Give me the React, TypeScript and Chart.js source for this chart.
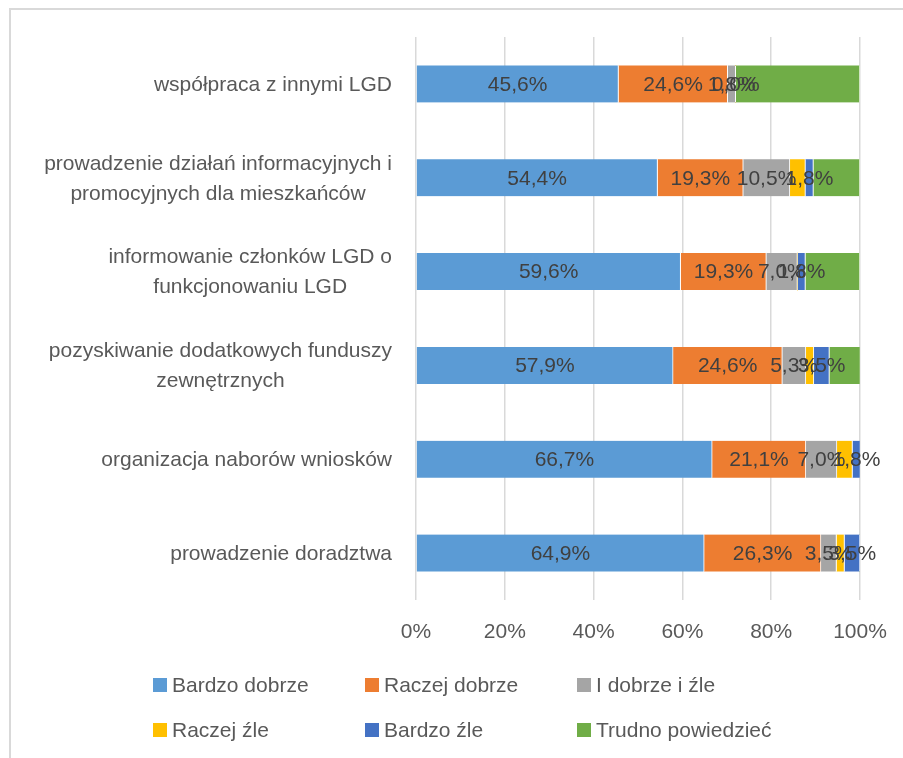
import React, { useEffect, useRef } from "react";
import { Chart, registerables } from "chart.js";

Chart.register(...registerables);

const categories: string[][] = [
  ["współpraca z innymi LGD"],
  ["prowadzenie działań informacyjnych i", "promocyjnych dla mieszkańców"],
  ["informowanie członków LGD o", "funkcjonowaniu LGD"],
  ["pozyskiwanie dodatkowych funduszy", "zewnętrznych"],
  ["organizacja naborów wniosków"],
  ["prowadzenie doradztwa"],
];

const seriesNames = [
  "Bardzo dobrze",
  "Raczej dobrze",
  "I dobrze i źle",
  "Raczej źle",
  "Bardzo źle",
  "Trudno powiedzieć",
];

const bardzoDobrze = [45.6, 54.4, 59.6, 57.9, 66.7, 64.9];
const raczejDobrze = [24.6, 19.3, 19.3, 24.6, 21.1, 26.3];
const iDobrzeIZle = [1.8, 10.5, 7.0, 5.3, 7.0, 3.5];
const raczejZle = [0, 3.5, 0, 1.8, 3.5, 1.8];
const bardzoZle = [0, 1.8, 1.8, 3.5, 1.8, 3.5];
const trudnoPowiedziec = [28.0, 10.5, 12.3, 7.0, 0, 0];

const xTicks = [0, 20, 40, 60, 80, 100];

const colors = ["#5B9BD5", "#ED7D31", "#A5A5A5", "#FFC000", "#4472C4", "#70AD47"];
const labelledSeries = [true, true, true, false, true, false];

const FONT = "'Liberation Sans', Arial, sans-serif";
const FS = 21;

export default function App() {
  const ref = useRef<HTMLCanvasElement | null>(null);

  useEffect(() => {
    if (!ref.current) return;
    const values = [bardzoDobrze, raczejDobrze, iDobrzeIZle, raczejZle, bardzoZle, trudnoPowiedziec];

    const customPlugin = {
      id: "custom",
      afterDatasetsDraw(chart: any) {
        const ctx = chart.ctx;
        ctx.save();
        ctx.font = `${FS}px ${FONT}`;
        ctx.textAlign = "center";
        ctx.textBaseline = "middle";
        ctx.fillStyle = "#404040";
        chart.data.datasets.forEach((ds: any, di: number) => {
          if (!labelledSeries[di]) return;
          const meta = chart.getDatasetMeta(di);
          meta.data.forEach((el: any, i: number) => {
            const v = ds.data[i];
            const cx = (el.x + el.base) / 2;
            const txt = v.toFixed(1).replace(".", ",") + "%";
            ctx.fillText(txt, cx, el.y + 1);
          });
        });
        ctx.restore();
      },
      afterDraw(chart: any) {
        const ctx = chart.ctx;
        const yScale = chart.scales.y;
        ctx.save();
        ctx.font = `${FS}px ${FONT}`;
        ctx.fillStyle = "#595959";
        ctx.textBaseline = "middle";
        ctx.textAlign = "center";
        const right = 392;
        const lh = 30;
        categories.forEach((lines, i) => {
          const y = yScale.getPixelForValue(i);
          const w = Math.max(...lines.map((l) => ctx.measureText(l).width));
          const cx = right - w / 2;
          lines.forEach((l, li) => {
            ctx.fillText(l, cx, y - ((lines.length - 1) * lh) / 2 + li * lh + 1);
          });
        });
        // legend
        ctx.textAlign = "left";
        const colX = [153, 365, 577];
        const rowY = [685, 730];
        seriesNames.forEach((name, i) => {
          const c = i % 3;
          const r = Math.floor(i / 3);
          ctx.fillStyle = colors[i];
          ctx.fillRect(colX[c], rowY[r] - 7, 14, 14);
          ctx.fillStyle = "#595959";
          ctx.fillText(name, colX[c] + 19, rowY[r] + 1);
        });
        ctx.restore();
      },
    };

    const chart = new Chart(ref.current, {
      type: "bar",
      data: {
        labels: categories.map((c) => c.join(" ")),
        datasets: seriesNames.map((name, i) => ({
          label: name,
          data: values[i],
          backgroundColor: colors[i],
          borderColor: "#ffffff",
          borderWidth: { top: 0, bottom: 0, left: 0, right: 1 },
          borderSkipped: false,
          barThickness: 37,
        })),
      },
      options: {
        indexAxis: "y",
        responsive: false,
        animation: false,
        devicePixelRatio: 1,
        layout: { padding: { left: 416, right: 43, top: 37, bottom: 108 } },
        plugins: {
          legend: { display: false },
          tooltip: { enabled: false },
          title: { display: false },
        },
        scales: {
          x: {
            stacked: true,
            min: 0,
            max: 100,
            afterBuildTicks: (scale: any) => {
              scale.ticks = xTicks.map((v) => ({ value: v }));
            },
            afterFit: (scale: any) => {
              scale.height = 50;
              scale.paddingLeft = 0;
              scale.paddingRight = 0;
            },
            grid: { color: "#d9d9d9", lineWidth: 1.5, drawTicks: false },
            border: { display: false },
            ticks: {
              padding: 20,
              color: "#595959",
              font: { family: FONT, size: FS },
              callback: (v: any) => v + "%",
            },
          },
          y: {
            stacked: true,
            afterFit: (scale: any) => {
              scale.width = 0;
            },
            grid: { display: false },
            border: { display: false },
            ticks: { display: false },
          },
        },
      },
      plugins: [customPlugin],
    } as any);
    return () => chart.destroy();
  }, []);

  return (
    <div
      style={{
        position: "fixed",
        left: 0,
        top: 0,
        width: 903,
        height: 758,
        overflow: "hidden",
        background: "#ffffff",
      }}
    >
      <div
        style={{
          position: "absolute",
          left: 9,
          top: 8,
          width: 1000,
          height: 1000,
          border: "2px solid #d9d9d9",
        }}
      />
      <canvas
        ref={ref}
        width={903}
        height={758}
        style={{ position: "absolute", left: 0, top: 0, width: 903, height: 758 }}
      />
    </div>
  );
}
